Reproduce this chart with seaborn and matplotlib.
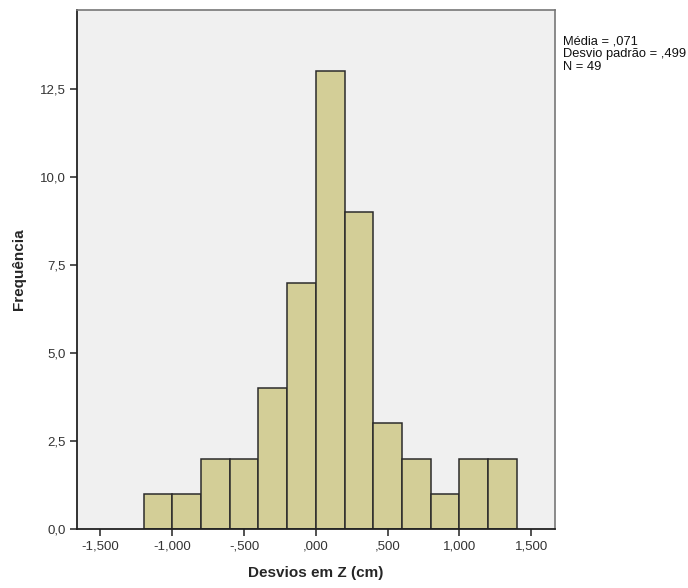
import numpy as np
import pandas as pd
import matplotlib
matplotlib.use("Agg")
import matplotlib.pyplot as plt
import seaborn as sns

# Data
bin_edges = [-1.2, -1.0, -0.8, -0.6, -0.4, -0.2, 0.0, 0.2, 0.4, 0.6, 0.8, 1.0, 1.2, 1.4]
counts = [1, 1, 2, 2, 4, 7, 13, 9, 3, 2, 1, 2, 2]
x_ticks = [-1.5, -1.0, -0.5, 0.0, 0.5, 1.0, 1.5]
x_tick_labels = ["-1,500", "-1,000", "-,500", ",000", ",500", "1,000", "1,500"]
y_ticks = [0.0, 2.5, 5.0, 7.5, 10.0, 12.5]
y_tick_labels = ["0,0", "2,5", "5,0", "7,5", "10,0", "12,5"]
stats_text = "Média = ,071\nDesvio padrão = ,499\nN = 49"

centers = [(bin_edges[i] + bin_edges[i + 1]) / 2 for i in range(len(counts))]
df = pd.DataFrame({"x": centers, "w": counts})

sns.set_style("white")
plt.rcParams["font.family"] = ["Liberation Sans", "DejaVu Sans"]

fig = plt.figure(figsize=(6.88, 5.88), dpi=100)
ax = fig.add_axes([0.1115, 0.1003, 0.6952, 0.8827])
ax.set_facecolor("#F0F0F0")

sns.histplot(data=df, x="x", weights="w", bins=bin_edges, ax=ax,
             color="#D3CE97", edgecolor="#2b2b2b", linewidth=1.1, alpha=1.0)

ax.set_xlim(-1.665, 1.665)
ax.set_ylim(0, 14.74)
ax.set_xticks(x_ticks)
ax.set_xticklabels(x_tick_labels)
ax.set_yticks(y_ticks)
ax.set_yticklabels(y_tick_labels)
ax.tick_params(axis="both", which="major", length=5, width=1.2, color="#333333",
               labelsize=9.5, labelcolor="#333333", direction="out", pad=3)
ax.tick_params(axis="x", bottom=True)
ax.tick_params(axis="y", left=True)

for side in ["left", "bottom"]:
    ax.spines[side].set_color("#222222")
    ax.spines[side].set_linewidth(1.3)
for side in ["top", "right"]:
    ax.spines[side].set_color("#777777")
    ax.spines[side].set_linewidth(1.2)
    ax.spines[side].set_visible(True)

ax.set_xlabel("Desvios em Z (cm)", fontsize=11, fontweight="bold", labelpad=10)
ax.set_ylabel("Frequência", fontsize=11, fontweight="bold", labelpad=10)
ax.grid(False)

fig.text(563 / 688, 1 - 36 / 588, stats_text, fontsize=9.3, va="top", ha="left",
         color="#111111", linespacing=1.05)

fig.savefig("out.png", dpi=100)
